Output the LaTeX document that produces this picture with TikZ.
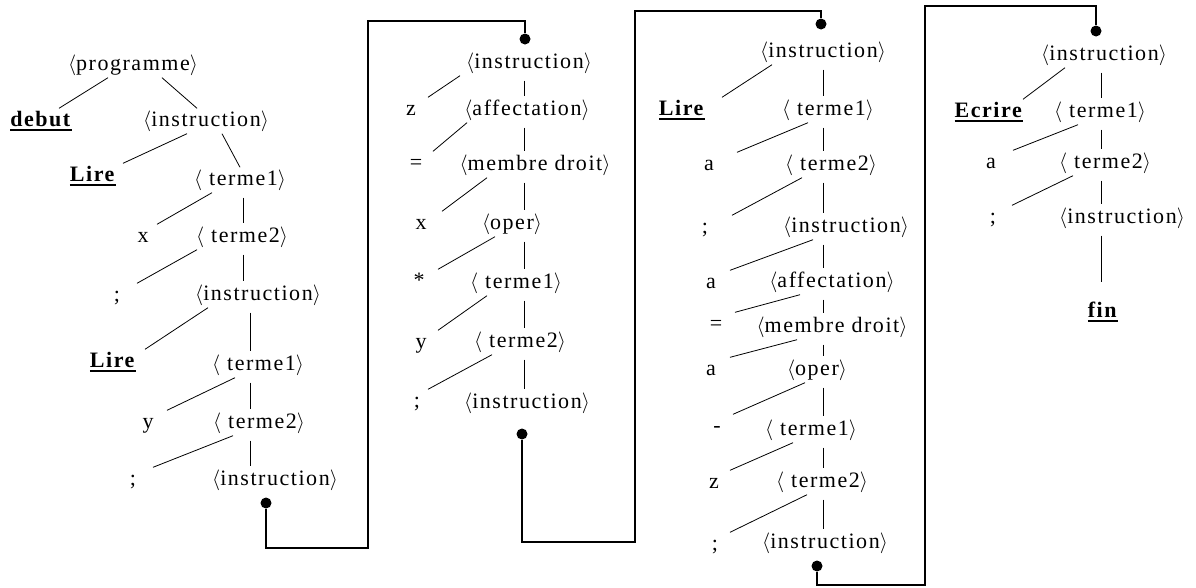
\documentclass[tikz,border=0pt]{standalone}
\usepackage{fontspec}
\setmainfont{Liberation Serif}[LetterSpace=7]
\usepackage{tikz}

\newcommand{\nt}[1]{$\langle$#1$\rangle$}
\newcommand{\kw}[1]{\vtop{\hbox{\textbf{#1}}\kern2pt\hrule height 2pt}}

\begin{document}
\begin{tikzpicture}[x=1pt,y=-1pt,
 sym/.style={inner sep=4pt,text height=14pt,text depth=3pt,
   font=\fontsize{22}{26}\selectfont},
 edge/.style={draw=black,line width=.8pt},
 vert/.style={edge,shorten <=5pt,shorten >=1pt},
 dot/.style={circle,fill=black,inner sep=0pt,minimum size=11pt},
 link/.style={draw=black,line width=1.6pt}
]
\useasboundingbox (0,0) rectangle (1196,587);

% first tree
\node[sym] (prog)  at (133,65)  {\nt{programme}};
\node[sym] (debut) at (41,121)  {\kw{debut}};
\node[sym] (i1)    at (206,121) {\nt{instruction}};
\node[sym] (lire1) at (93,176)  {\kw{Lire}};
\node[sym] (t11)   at (240,180) {\nt{\ terme1}};
\node[sym] (x1)    at (143,237) {x};
\node[sym] (t21)   at (242,237) {\nt{\ terme2}};
\node[sym] (semi1) at (117,296) {;};
\node[sym] (i2)    at (258,295) {\nt{instruction}};
\node[sym] (lire2) at (113,362) {\kw{Lire}};
\node[sym] (t12)   at (258,365) {\nt{\ terme1}};
\node[sym] (y1)    at (148,423) {y};
\node[sym] (t22)   at (259,423) {\nt{\ terme2}};
\node[sym] (semi2) at (133,480) {;};
\node[sym] (i3)    at (275,480) {\nt{instruction}};
\node[dot] (d1)    at (266,503) {};

\coordinate (sp1) at (243,0);
\coordinate (sp2) at (250,0);
\draw[edge] ([xshift=-25pt]prog.south) -- ([xshift=18pt]debut.north);
\draw[edge] ([xshift=29pt]prog.south) -- ([xshift=-9pt]i1.north);
\draw[edge] ([xshift=-19pt]i1.south) -- ([xshift=30pt]lire1.north);
\draw[edge] ([xshift=16pt]i1.south) -- (t11.north);
\draw[edge] ([xshift=-28pt]t11.south) -- ([xshift=14pt]x1.north);
\draw[vert] (t11.south -| sp1) -- (t21.north -| sp1);
\draw[edge] ([xshift=-45pt]t21.south) -- ([xshift=20pt]semi1.north);
\draw[vert] (t21.south -| sp1) -- (i2.north -| sp1);
\draw[edge] ([xshift=-50pt]i2.south) -- ([xshift=32pt]lire2.north);
\draw[vert] (i2.south -| sp2) -- (t12.north -| sp2);
\draw[edge] ([xshift=-23pt]t12.south) -- ([xshift=19pt]y1.north);
\draw[vert] (t12.south -| sp2) -- (t22.north -| sp2);
\draw[edge] ([xshift=-26pt]t22.south) -- ([xshift=20pt]semi2.north);
\draw[vert] (t22.south -| sp2) -- (i3.north -| sp2);

% second tree
\node[dot] (d2)    at (525,39)  {};
\node[sym] (i4)    at (529,63)  {\nt{instruction}};
\node[sym] (z1)    at (411,110) {z};
\node[sym] (aff1)  at (527,110) {\nt{affectation}};
\node[sym] (eq1)   at (416,164) {=};
\node[sym] (md1)   at (535,165) {\nt{membre droit}};
\node[sym] (x2)    at (421,224) {x};
\node[sym] (op1)   at (512,224) {\nt{oper}};
\node[sym] (star)  at (419,282) {*};
\node[sym] (t13)   at (516,283) {\nt{\ terme1}};
\node[sym] (y2)    at (421,343) {y};
\node[sym] (t23)   at (520,342) {\nt{\ terme2}};
\node[sym] (semi3) at (417,402) {;};
\node[sym] (i5)    at (527,403) {\nt{instruction}};
\node[dot] (d3)    at (522,434) {};

\coordinate (sp3) at (524,0);
\draw[edge] ([xshift=-69pt]i4.south) -- ([xshift=17pt]z1.north);
\draw[vert] (i4.south -| sp3) -- (aff1.north -| sp3);
\draw[edge] ([xshift=-60pt]aff1.south) -- ([xshift=17pt]eq1.north);
\draw[vert] (aff1.south -| sp3) -- (md1.north -| sp3);
\draw[edge] ([xshift=-48pt]md1.south) -- ([xshift=21pt]x2.north);
\draw[vert] (md1.south -| sp3) -- (op1.north -| sp3);
\draw[edge] ([xshift=-17pt]op1.south) -- ([xshift=19pt]star.north);
\draw[vert] (op1.south -| sp3) -- (t13.north -| sp3);
\draw[edge] ([xshift=-29pt]t13.south) -- ([xshift=17pt]y2.north);
\draw[vert] (t13.south -| sp3) -- (t23.north -| sp3);
\draw[edge] ([xshift=-28pt]t23.south) -- ([xshift=11pt]semi3.north);
\draw[vert] (t23.south -| sp3) -- (i5.north -| sp3);

% third tree
\node[dot] (d4)    at (821,24)  {};
\node[sym] (i6)    at (823,52)  {\nt{instruction}};
\node[sym] (lire3) at (682,110) {\kw{Lire}};
\node[sym] (t14)   at (828,110) {\nt{\ terme1}};
\node[sym] (a1)    at (709,165) {a};
\node[sym] (t24)   at (831,165) {\nt{\ terme2}};
\node[sym] (semi4) at (705,228) {;};
\node[sym] (i7)    at (846,227) {\nt{instruction}};
\node[sym] (a2)    at (711,283) {a};
\node[sym] (aff2)  at (832,282) {\nt{affectation}};
\node[sym] (eq2)   at (716,325) {=};
\node[sym] (md2)   at (832,327) {\nt{membre droit}};
\node[sym] (a3)    at (711,370) {a};
\node[sym] (op2)   at (817,370) {\nt{oper}};
\node[sym] (minus) at (717,427) {-};
\node[sym] (t15)   at (811,430) {\nt{\ terme1}};
\node[sym] (z2)    at (714,483) {z};
\node[sym] (t25)   at (822,482) {\nt{\ terme2}};
\node[sym] (semi5) at (715,545) {;};
\node[sym] (i8)    at (825,543) {\nt{instruction}};
\node[dot] (d5)    at (817,566) {};

\coordinate (sp4) at (823,0);
\draw[edge] ([xshift=-51pt]i6.south) -- ([xshift=40pt]lire3.north);
\draw[vert] (i6.south -| sp4) -- (t14.north -| sp4);
\draw[edge] ([xshift=-20pt]t14.south) -- ([xshift=28pt]a1.north);
\draw[vert] (t14.south -| sp4) -- (t24.north -| sp4);
\draw[edge] ([xshift=-29pt]t24.south) -- ([xshift=27pt]semi4.north);
\draw[vert] (t24.south -| sp4) -- (i7.north -| sp4);
\draw[edge] ([xshift=-33pt]i7.south) -- ([xshift=19pt]a2.north);
\draw[vert] (i7.south -| sp4) -- (aff2.north -| sp4);
\draw[edge] ([xshift=-32pt]aff2.south) -- ([xshift=19pt]eq2.north);
\draw[vert] (aff2.south -| sp4) -- (md2.north -| sp4);
\draw[edge] ([xshift=-35pt]md2.south) -- ([xshift=19pt]a3.north);
\draw[vert] (md2.south -| sp4) -- (op2.north -| sp4);
\draw[edge] ([xshift=-12pt]op2.south) -- ([xshift=16pt]minus.north);
\draw[vert] (op2.south -| sp4) -- (t15.north -| sp4);
\draw[edge] ([xshift=-18pt]t15.south) -- ([xshift=16pt]z2.north);
\draw[vert] (t15.south -| sp4) -- (t25.north -| sp4);
\draw[edge] ([xshift=-15pt]t25.south) -- ([xshift=15pt]semi5.north);
\draw[vert] (t25.south -| sp4) -- (i8.north -| sp4);

% fourth tree
\node[dot] (d6)     at (1096,31)  {};
\node[sym] (i9)     at (1104,55)  {\nt{instruction}};
\node[sym] (ecrire) at (989,112)  {\kw{Ecrire}};
\node[sym] (t16)    at (1100,112) {\nt{\ terme1}};
\node[sym] (a4)     at (991,163)  {a};
\node[sym] (t26)    at (1105,163) {\nt{\ terme2}};
\node[sym] (semi6)  at (993,218)  {;};
\node[sym] (i10)    at (1122,218) {\nt{instruction}};
\node[sym] (fin)    at (1103,312) {\kw{fin}};

\coordinate (sp5) at (1101,0);
\draw[edge] ([xshift=-39pt]i9.south) -- ([xshift=34pt]ecrire.north);
\draw[vert] (i9.south -| sp5) -- (t16.north -| sp5);
\draw[edge] ([xshift=-22pt]t16.south) -- ([xshift=22pt]a4.north);
\draw[vert] (t16.south -| sp5) -- (t26.north -| sp5);
\draw[edge] ([xshift=-32pt]t26.south) -- ([xshift=19pt]semi6.north);
\draw[vert] (t26.south -| sp5) -- (i10.north -| sp5);
\draw[vert,shorten >=17pt] (i10.south -| sp5) -- (fin.north -| sp5);

% links between the trees
\coordinate (b1) at (368,548);
\coordinate (u1) at (525,21);
\coordinate (b2) at (635,542);
\coordinate (u2) at (821,11);
\coordinate (b3) at (925,585);
\coordinate (u3) at (1096,6);
\draw[link] (d1) |- (b1) |- (u1) -- (d2);
\draw[link] (d3) |- (b2) |- (u2) -- (d4);
\draw[link] (d5) |- (b3) |- (u3) -- (d6);
\end{tikzpicture}
\end{document}
